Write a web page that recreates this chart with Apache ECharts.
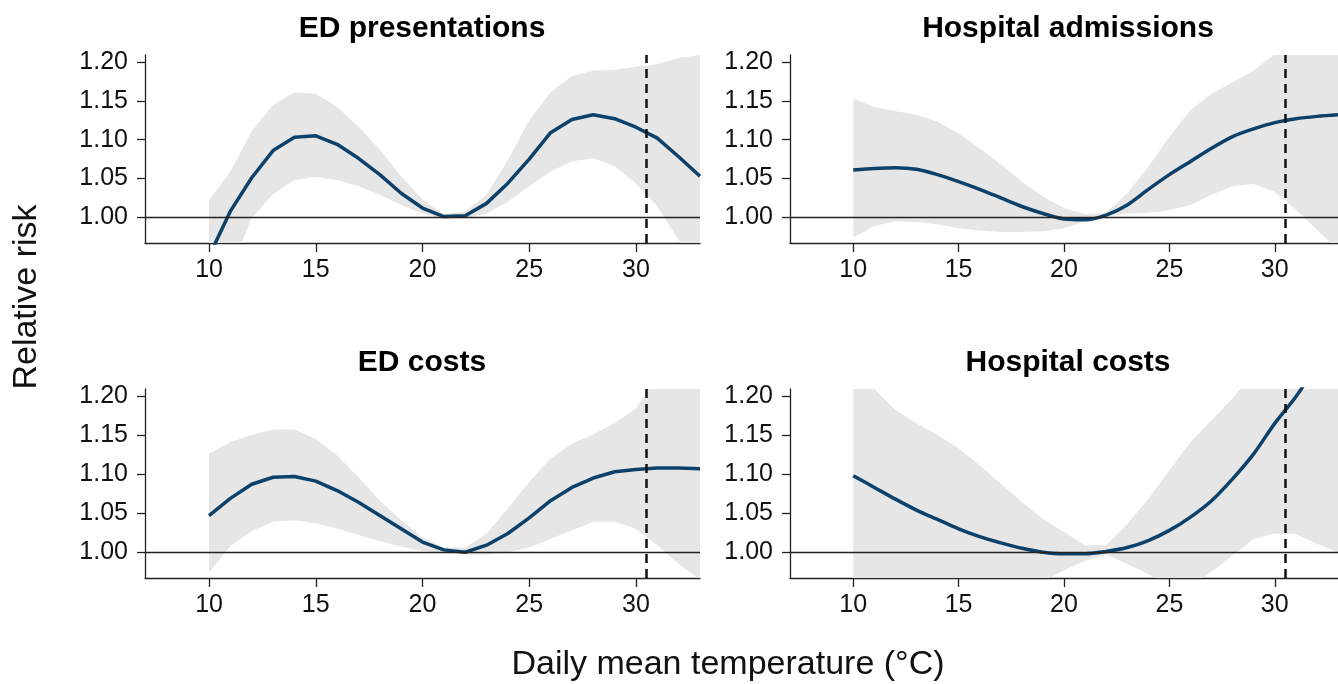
<!DOCTYPE html>
<html>
<head>
<meta charset="utf-8">
<script src="https://cdn.jsdelivr.net/npm/echarts@6/dist/echarts.min.js"></script>
<style>
html,body{margin:0;padding:0;background:#fff;}
#chart{width:1338px;height:684px;}
</style>
</head>
<body>
<div id="chart"></div>
<script>
// ---- data ----
var temps = [10,11,12,13,14,15,16,17,18,19,20,21,22,23,24,25,26,27,28,29,30,31,32,33];

var panelTitles = ["ED presentations", "Hospital admissions", "ED costs", "Hospital costs"];

var edPresRR = [0.950,1.008,1.051,1.086,1.103,1.105,1.094,1.076,1.055,1.031,1.012,1.001,1.002,1.018,1.044,1.075,1.109,1.126,1.132,1.127,1.116,1.102,1.078,1.053];
var edPresLo = [0.870,0.933,0.999,1.030,1.048,1.052,1.048,1.040,1.029,1.016,1.005,0.998,0.999,1.005,1.020,1.040,1.059,1.072,1.076,1.066,1.044,1.014,0.971,0.930];
var edPresHi = [1.022,1.059,1.111,1.145,1.161,1.159,1.142,1.117,1.087,1.053,1.023,1.004,1.008,1.029,1.074,1.125,1.161,1.182,1.189,1.190,1.194,1.197,1.205,1.209];

var hospAdmRR = [1.061,1.063,1.064,1.062,1.055,1.046,1.036,1.025,1.014,1.005,0.998,0.997,1.003,1.016,1.036,1.055,1.072,1.089,1.104,1.114,1.122,1.127,1.130,1.132];
var hospAdmLo = [0.974,0.989,0.995,0.994,0.991,0.986,0.983,0.981,0.981,0.982,0.986,0.995,1.001,1.005,1.006,1.009,1.016,1.029,1.040,1.043,1.033,1.010,0.984,0.958];
var hospAdmHi = [1.153,1.142,1.137,1.132,1.123,1.108,1.089,1.068,1.046,1.027,1.012,1.004,1.006,1.031,1.065,1.104,1.138,1.159,1.174,1.189,1.210,1.230,1.250,1.270];

var edCostRR = [1.047,1.069,1.087,1.096,1.097,1.091,1.079,1.064,1.047,1.030,1.013,1.003,1.000,1.009,1.024,1.044,1.066,1.083,1.095,1.103,1.106,1.108,1.108,1.107];
var edCostLo = [0.974,1.008,1.027,1.039,1.041,1.037,1.030,1.022,1.014,1.007,1.002,0.999,0.997,0.997,1.000,1.006,1.017,1.028,1.039,1.039,1.030,1.009,0.985,0.965];
var edCostHi = [1.126,1.141,1.150,1.157,1.157,1.145,1.124,1.096,1.066,1.041,1.019,1.006,1.006,1.024,1.056,1.090,1.120,1.139,1.151,1.165,1.184,1.225,1.280,1.300];

var hospCostRR = [1.098,1.083,1.068,1.054,1.042,1.030,1.020,1.012,1.005,1.000,0.998,0.998,1.001,1.006,1.015,1.028,1.045,1.066,1.094,1.126,1.165,1.199,1.240,1.285];
var hospCostLo = [0.820,0.850,0.870,0.890,0.905,0.920,0.935,0.945,0.955,0.963,0.977,0.989,0.997,0.985,0.972,0.958,0.958,0.975,0.996,1.017,1.024,1.023,1.011,1.000];
var hospCostHi = [1.260,1.209,1.182,1.165,1.150,1.133,1.111,1.088,1.064,1.043,1.026,1.009,1.009,1.036,1.068,1.105,1.141,1.169,1.197,1.230,1.270,1.300,1.330,1.360];

var xTickValues = [10,15,20,25,30];
var yTickValues = [1.00,1.05,1.10,1.15,1.20];
var referenceRR = 1.00;
var thresholdTemp = 30.5;
var xTitle = "Daily mean temperature (\u00B0C)";
var yTitle = "Relative risk";

// ---- build ----
var panels = [
  {rr: edPresRR, lo: edPresLo, hi: edPresHi},
  {rr: hospAdmRR, lo: hospAdmLo, hi: hospAdmHi},
  {rr: edCostRR, lo: edCostLo, hi: edCostHi},
  {rr: hospCostRR, lo: hospCostLo, hi: hospCostHi}
];

var FONT = "'Liberation Sans', Arial, Helvetica, sans-serif";
var grids = [
  {left:145, top:55, width:555, height:188},
  {left:790, top:55, width:556, height:188},
  {left:145, top:389, width:555, height:189},
  {left:790, top:389, width:556, height:189}
];

function pairs(arr){ return temps.map(function(t,i){ return [t, arr[i]]; }); }

function bandRenderer(lo, hi){
  return function(params, api){
    var pts = [];
    for (var i = 0; i < temps.length; i++) pts.push(api.coord([temps[i], lo[i]]));
    for (var j = temps.length - 1; j >= 0; j--) pts.push(api.coord([temps[j], hi[j]]));
    return {type:'polygon', shape:{points:pts}, style:{fill:'#e6e6e6', stroke:null}, silent:true};
  };
}

var xAxes = [], yAxes = [], series = [];
panels.forEach(function(p, k){
  xAxes.push({
    type:'value', gridIndex:k, min:7, max:33,
    axisLine:{show:true, onZero:false, lineStyle:{color:'#222', width:1.3}},
    axisTick:{show:true, length:9, customValues:xTickValues, lineStyle:{color:'#222', width:1.3}},
    axisLabel:{show:true, customValues:xTickValues, margin:15, color:'#111', fontSize:25, fontFamily:FONT},
    splitLine:{show:false}
  });
  yAxes.push({
    type:'value', gridIndex:k, min:0.967, max:1.209,
    axisLine:{show:true, onZero:false, lineStyle:{color:'#222', width:1.3}},
    axisTick:{show:true, length:8, customValues:yTickValues, lineStyle:{color:'#222', width:1.3}},
    axisLabel:{show:true, customValues:yTickValues, margin:17, color:'#111', fontSize:25, fontFamily:FONT,
      formatter:function(v){ return v.toFixed(2); }},
    splitLine:{show:false}
  });
  series.push({
    type:'custom', xAxisIndex:k, yAxisIndex:k, data:[[temps[0], p.lo[0]]],
    renderItem:bandRenderer(p.lo, p.hi), clip:true, silent:true, z:1,
    markLine:{silent:true, symbol:'none', label:{show:false}, animation:false,
      data:[{yAxis:referenceRR, lineStyle:{color:'#222', width:1.3, type:'solid'}}]}
  });
  series.push({
    type:'line', xAxisIndex:k, yAxisIndex:k, data:pairs(p.rr),
    symbol:'none', smooth:(k===1||k===3)?0.3:false,
    lineStyle:{color:'#0d4169', width:3.5}, z:3, clip:true,
    markLine:{silent:true, symbol:'none', label:{show:false}, animation:false,
      data:[{xAxis:thresholdTemp, lineStyle:{color:'#111', width:2.5, type:[9,6]}}]}
  });
});

var graphics = [];
var titlePos = [[422,29],[1068,29],[422,363],[1068,363]];
panelTitles.forEach(function(t,i){
  graphics.push({type:'text', x:titlePos[i][0], y:titlePos[i][1], silent:true,
    style:{text:t, textAlign:'center', textVerticalAlign:'middle', fill:'#000',
      font:'bold 30px ' + FONT}});
});
graphics.push({type:'text', x:728, y:665, silent:true,
  style:{text:xTitle, textAlign:'center', textVerticalAlign:'middle', fill:'#111', font:'34px ' + FONT}});
graphics.push({type:'text', x:27, y:297, rotation:Math.PI/2, silent:true,
  style:{text:yTitle, textAlign:'center', textVerticalAlign:'middle', fill:'#111', font:'34px ' + FONT}});

var chart = echarts.init(document.getElementById('chart'), null, {renderer:'canvas'});
chart.setOption({
  animation:false,
  backgroundColor:'#fff',
  grid:grids,
  xAxis:xAxes,
  yAxis:yAxes,
  series:series,
  graphic:graphics
});
</script>
</body>
</html>
